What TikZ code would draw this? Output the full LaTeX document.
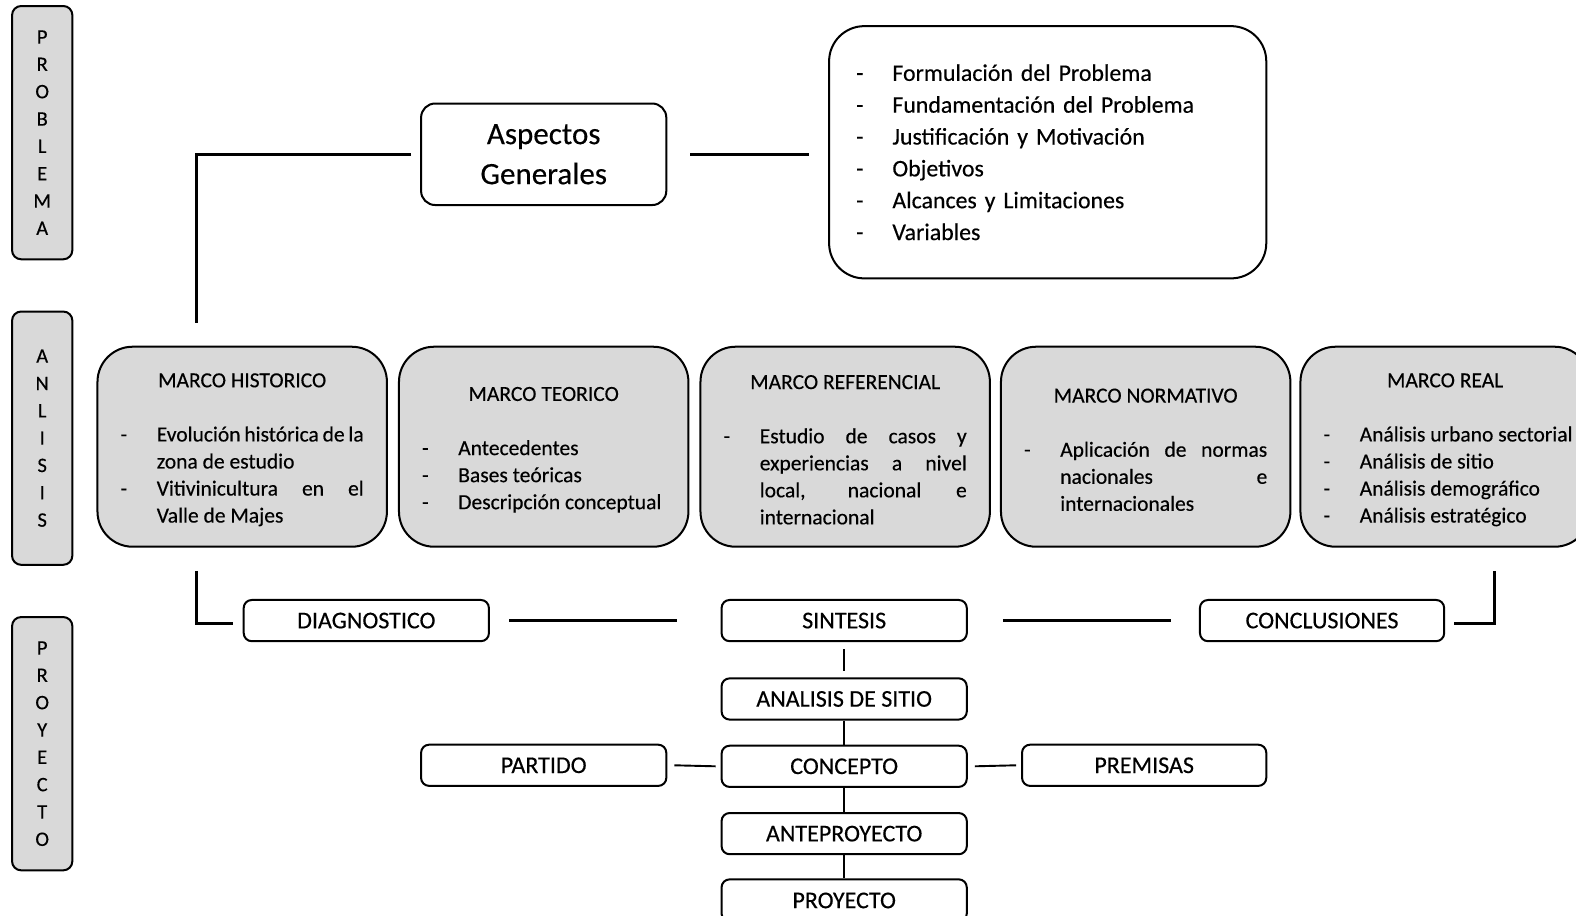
\documentclass[tikz,border=0pt]{standalone}
\usepackage{fontspec}
\setmainfont{Carlito}[FakeBold=0.35]
\definecolor{boxgray}{RGB}{217,217,217}
\newcommand{\dashitem}[1]{\hangindent=36bp\hangafter=1\noindent\makebox[36bp][l]{-}#1\par}
\newcommand{\mtitle}[1]{\noindent\makebox[\linewidth][c]{\rule{0pt}{20bp}#1}\par\vspace{27bp}}
\begin{document}
\begin{tikzpicture}[x=1bp,y=-1bp,
  sidebox/.style={draw, line width=2bp, rounded corners=9bp, fill=boxgray,
    minimum width=60bp, minimum height=252bp, inner sep=0pt,
    font=\fontsize{20.5}{27.3}\selectfont, align=center},
  marco/.style={draw, line width=2bp, rounded corners=35bp, fill=boxgray,
    minimum width=288bp, minimum height=199bp, inner sep=0pt,
    text width=242bp, align=justify, font=\fontsize{21.5}{27}\selectfont},
  smallbox/.style={draw, line width=2bp, rounded corners=8bp, fill=white,
    minimum width=244bp, minimum height=41bp, inner sep=0pt,
    font=\fontsize{24}{28}\selectfont},
  conn/.style={line width=3bp},
  thinconn/.style={line width=1.9bp}]
\useasboundingbox (0,0) rectangle (1568.2,911.4);
\fill[white] (0,0) rectangle (1568.2,911.4);

% side labels
\node[sidebox] (sp) at (42,132) {P\\R\\O\\B\\L\\E\\M\\A};
\node[sidebox] (sa) at (42,436) {A\\N\\L\\I\\S\\I\\S};
\node[sidebox] (sy) at (42,740) {P\\R\\O\\Y\\E\\C\\T\\O};

% top
\node[draw, line width=2bp, rounded corners=14bp, fill=white, minimum width=244bp,
  minimum height=101bp, inner sep=0pt, align=center,
  font=\fontsize{31}{40}\selectfont] (asp) at (541,153.5) {Aspectos\\Generales};
\node[draw, line width=2bp, rounded corners=35bp, fill=white, minimum width=435bp,
  minimum height=251bp, inner sep=0pt, text width=381bp, align=left,
  font=\fontsize{23.8}{31.8}\selectfont] (lst) at (1042.5,151.5)
  {\makebox[36bp][l]{-}Formulación del Problema\\
   \makebox[36bp][l]{-}Fundamentación del Problema\\
   \makebox[36bp][l]{-}Justificación y Motivación\\
   \makebox[36bp][l]{-}Objetivos\\
   \makebox[36bp][l]{-}Alcances y Limitaciones\\
   \makebox[36bp][l]{-}Variables};

% marcos
\node[marco] (mh) at (241,444.5) {\mtitle{MARCO HISTORICO}%
  \dashitem{Evolución histórica de la\linebreak zona de estudio}%
  \dashitem{Vitivinicultura en el\linebreak Valle de Majes}};
\node[marco] (mt) at (541,444.5) {\mtitle{MARCO TEORICO}%
  \dashitem{Antecedentes}%
  \dashitem{Bases teóricas}%
  \dashitem{Descripción conceptual}};
\node[marco] (mf) at (841,444.5) {\mtitle{MARCO REFERENCIAL}%
  \dashitem{Estudio de casos y\linebreak experiencias a nivel\linebreak local, nacional e\linebreak internacional}};
\node[marco] (mn) at (1140,444.5) {\mtitle{MARCO NORMATIVO}%
  \dashitem{Aplicación de normas\linebreak nacionales e\linebreak internacionales}};
\node[marco] (mr) at (1438,444.5) {\mtitle{MARCO REAL}%
  \dashitem{\mbox{Análisis urbano sectorial}}%
  \dashitem{Análisis de sitio}%
  \dashitem{Análisis demográfico}%
  \dashitem{Análisis estratégico}};

% bottom row
\node[smallbox] (dg) at (364.5,617.5) {DIAGNOSTICO};
\node[smallbox] (sn) at (840,617.5) {SINTESIS};
\node[smallbox, minimum width=243bp] (cl) at (1315.5,617.5) {CONCLUSIONES};
\node[smallbox] (an) at (840,695.5) {ANALISIS DE SITIO};
\node[smallbox] (cp) at (840,762.5) {CONCEPTO};
\node[smallbox] (pt) at (541,761.5) {PARTIDO};
\node[smallbox, minimum width=243bp] (pm) at (1138.5,761.5) {PREMISAS};
\node[smallbox] (ap) at (840,829.5) {ANTEPROYECTO};
\node[smallbox, minimum height=42bp] (pr) at (840,896) {PROYECTO};

% connectors
\draw[conn] ([xshift=-9bp]asp.west) -| ([xshift=-45bp,yshift=23bp]mh.north);
\draw[conn] ([xshift=23bp]asp.east) -- ([xshift=-19bp]lst.west |- asp.east);
\draw[conn] ([xshift=-45bp,yshift=-23bp]mh.south) |- ([xshift=-10bp,yshift=-3bp]dg.west);
\draw[conn] ([xshift=19bp]dg.east) -- ([xshift=-43bp]sn.west);
\draw[conn] ([xshift=35bp]sn.east) -- ([xshift=-28bp]cl.west);
\draw[conn] ([xshift=9bp,yshift=-3bp]cl.east) -| ([xshift=49bp,yshift=-23bp]mr.south);
\draw[thinconn] ([yshift=-7bp]sn.south) -- ([yshift=6bp]an.north);
\draw[thinconn] (an) -- (cp);
\draw[thinconn] (cp) -- (ap);
\draw[thinconn] (ap) -- (pr);
\draw[thinconn] ([xshift=7bp]pt.east) -- ([xshift=-5bp]cp.west);
\draw[thinconn] ([xshift=7bp]cp.east) -- ([xshift=-5bp]pm.west);
\end{tikzpicture}
\end{document}
